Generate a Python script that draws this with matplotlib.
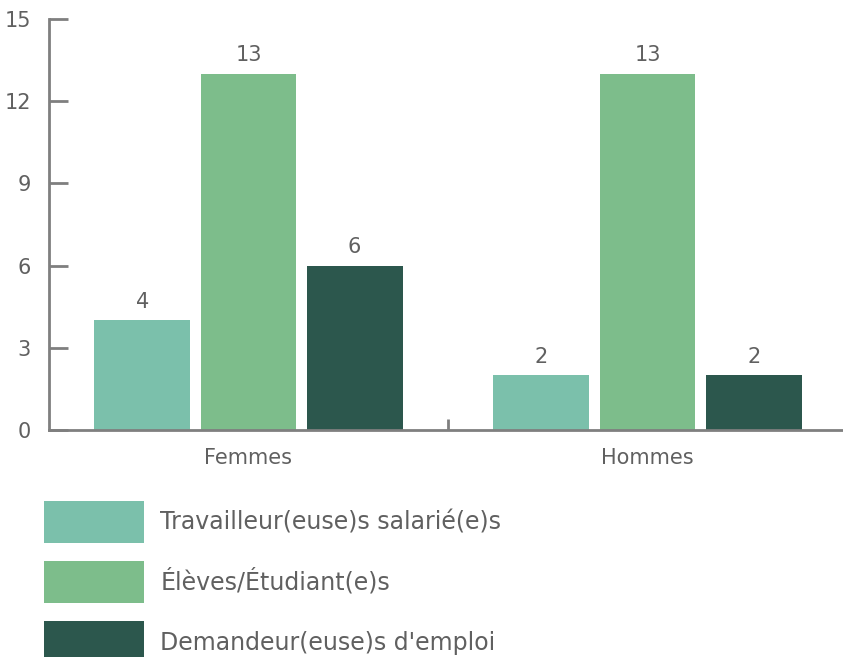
import numpy as np
import matplotlib.pyplot as plt

categories = ['Femmes', 'Hommes']
series = ['Travailleur(euse)s salarié(e)s', 'Élèves/Étudiant(e)s', "Demandeur(euse)s d'emploi"]
values = [[4, 2], [13, 13], [6, 2]]
colors = ['#7BC0AB', '#7DBD8B', '#2C574D']

plt.rcParams['font.family'] = ['DejaVu Sans']
gray = '#606060'
axcol = '#7f7f7f'

fig = plt.figure(figsize=(8.43, 6.57), dpi=100)
ax = fig.add_axes([49/843, 1-430/657, (847-49)/843, (430-19)/657])

x = np.arange(len(categories))
w = 0.24
step = 0.266
bars = []
for i, (name, vals) in enumerate(zip(series, values)):
    b = ax.bar(x + (i-1)*step, vals, width=w, color=colors[i], label=name)
    ax.bar_label(b, padding=6, fontsize=15, color=gray)
    bars.append(b)

ax.set_xlim(-0.5, 1.5)
ax.set_ylim(0, 15)
ax.set_yticks([0, 3, 6, 9, 12, 15])
ax.set_xticks(x)
ax.set_xticklabels(categories, fontsize=15, color=gray)
ax.set_xticks([0.5], minor=True)
ax.tick_params(axis='x', which='major', length=0, pad=13)
ax.tick_params(axis='x', which='minor', direction='in', length=8, width=2, color=axcol)
ax.tick_params(axis='y', direction='in', length=14, width=2, color=axcol,
               labelsize=15, labelcolor=gray, pad=13)
for s in ['top', 'right']:
    ax.spines[s].set_visible(False)
for s in ['left', 'bottom']:
    ax.spines[s].set_color(axcol)
    ax.spines[s].set_linewidth(2)

fig.legend(handles=bars, labels=series, loc='upper left',
           bbox_to_anchor=(44/843, 1-501/657), frameon=False,
           borderpad=0, borderaxespad=0, fontsize=17, labelcolor=gray,
           handlelength=4.24, handleheight=2.37, labelspacing=0.76, handletextpad=0.68)

fig.savefig('out.png', dpi=100)
